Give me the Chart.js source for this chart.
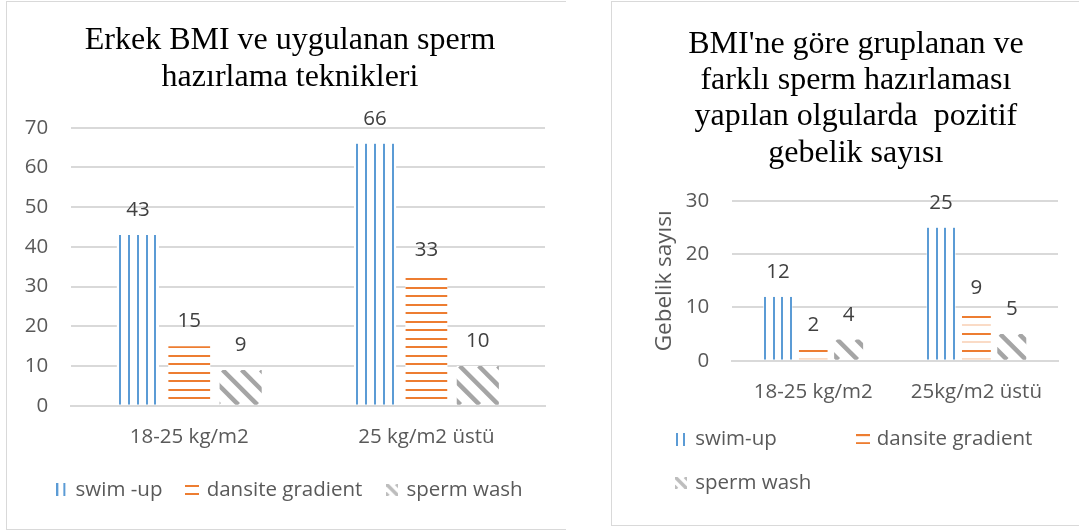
<!DOCTYPE html>
<html>
<head>
<meta charset="utf-8">
<script src="https://cdn.jsdelivr.net/npm/chart.js@4.4.1/dist/chart.umd.min.js"></script>
<style>
  html, body { margin: 0; padding: 0; background: #ffffff; }
  body { width: 1079px; height: 531px; overflow: hidden; position: relative; }
  #frameL { position: absolute; left: 6px; top: 1px; width: 559px; height: 527px;
            border-left: 1px solid #D9D9D9; border-top: 1px solid #D9D9D9; border-bottom: 1px solid #D9D9D9; }
  #frameR { position: absolute; left: 611px; top: 1px; width: 470px; height: 523px;
            border: 1px solid #D9D9D9; }
  #wrapL { position: absolute; left: 7px; top: 2px; width: 549px; height: 526px; }
  #wrapR { position: absolute; left: 612px; top: 2px; width: 467px; height: 522px; }
</style>
</head>
<body>
<div id="frameL"></div>
<div id="frameR"></div>
<div id="wrapL"><canvas id="chartL"></canvas></div>
<div id="wrapR"><canvas id="chartR"></canvas></div>
<script>
// ---------- data (left chart) ----------
const titleLeft = ['Erkek BMI ve uygulanan sperm', 'hazırlama teknikleri'];
const categoriesLeft = ['18-25 kg/m2', '25 kg/m2 üstü'];
const seriesNamesLeft = ['swim -up', 'dansite gradient', 'sperm wash'];
const swimUpLeft = [43, 66];
const dansiteLeft = [15, 33];
const spermWashLeft = [9, 10];
const yMinLeft = 0, yMaxLeft = 70, yStepLeft = 10;

// ---------- data (right chart) ----------
const titleRight = ["BMI'ne göre gruplanan ve", 'farklı sperm hazırlaması', 'yapılan olgularda  pozitif', 'gebelik sayısı'];
const categoriesRight = ['18-25 kg/m2', '25kg/m2 üstü'];
const seriesNamesRight = ['swim-up', 'dansite gradient', 'sperm wash'];
const swimUpRight = [12, 25];
const dansiteRight = [2, 9];
const spermWashRight = [4, 5];
const yMinRight = 0, yMaxRight = 30, yStepRight = 10;
const yTitleRight = 'Gebelik sayısı';

// ---------- styles ----------
const BLUE = '#5B9BD5', ORANGE = '#ED7D31', GRAY = '#A5A5A5';
const TXT = '#595959', LBL = '#404040', GRID = '#D9D9D9';
const SANS = '"Open Sans", "Liberation Sans", sans-serif';
const SERIF = '"Liberation Serif", "Times New Roman", serif';
const FS = 20.5;

function makeIcon(kind) {
  const c = document.createElement('canvas');
  const g = c.getContext('2d');
  if (kind === 'vertical') {
    c.width = 10; c.height = 13;
    g.fillStyle = BLUE; g.fillRect(0, 0, 2, 13); g.fillRect(7, 0, 2, 13);
  } else if (kind === 'horizontal') {
    c.width = 14; c.height = 10;
    g.fillStyle = ORANGE; g.fillRect(0, 0, 14, 2); g.fillRect(0, 8, 14, 2);
  } else {
    c.width = 12; c.height = 12;
    g.save(); g.beginPath(); g.rect(0, 0, 12, 12); g.clip();
    g.strokeStyle = '#BDBDBD'; g.lineWidth = 3.5;
    for (let k = -2; k <= 2; k++) {
      g.beginPath(); g.moveTo(k * 10, 0); g.lineTo(k * 10 + 12, 12); g.stroke();
    }
    g.restore();
  }
  return c;
}

const hatchPlugin = {
  id: 'hatch',
  afterDatasetsDraw(chart) {
    const ctx = chart.ctx;
    const hOff = chart.options.plugins.hatch.hOffset;
    const hAlt = chart.options.plugins.hatch.alternate;
    chart.data.datasets.forEach((ds, di) => {
      const meta = chart.getDatasetMeta(di);
      if (meta.hidden) return;
      meta.data.forEach(bar => {
        const p = bar.getProps(['x', 'y', 'base', 'width'], true);
        const left = p.x - p.width / 2, w = p.width;
        const top = Math.min(p.y, p.base), bottom = Math.max(p.y, p.base), h = bottom - top;
        if (h <= 0) return;
        ctx.save();
        ctx.beginPath(); ctx.rect(left, top, w, h); ctx.clip();
        if (ds.hatch === 'vertical') {
          const pitch = 8.8;
          const n = Math.floor((w - 2) / pitch) + 1;
          const start = left + (w - (n - 1) * pitch) / 2;
          ctx.fillStyle = BLUE;
          for (let k = 0; k < n; k++) {
            ctx.fillRect(Math.round(start + k * pitch) - 1, top, 2, h);
          }
        } else if (ds.hatch === 'horizontal') {
          const pitch = 8.5;
          for (let k = 0; ; k++) {
            const yy = p.base - hOff - k * pitch;
            if (yy < top - 2) break;
            if (hAlt && k % 2 === 0) {
              ctx.fillStyle = 'rgba(237,125,49,0.55)';
              ctx.fillRect(left, Math.round(yy) - 0.5, w, 1);
            } else {
              ctx.fillStyle = ORANGE;
              ctx.fillRect(left, Math.round(yy) - 1, w, 2);
            }
          }
        } else if (ds.hatch === 'diagonal') {
          const period = 19;
          ctx.strokeStyle = GRAY; ctx.lineWidth = 4.5;
          for (let x0 = left + 3 - Math.ceil((h + 10) / period) * period; x0 < left + w + 10; x0 += period) {
            ctx.beginPath(); ctx.moveTo(x0, top); ctx.lineTo(x0 + h, bottom); ctx.stroke();
          }
        }
        ctx.restore();
      });
    });
  }
};

const valueLabelPlugin = {
  id: 'valueLabels',
  afterDatasetsDraw(chart) {
    const ctx = chart.ctx;
    ctx.save();
    ctx.font = FS + 'px ' + SANS;
    ctx.fillStyle = LBL;
    ctx.textAlign = 'center';
    ctx.textBaseline = 'middle';
    chart.data.datasets.forEach((ds, di) => {
      chart.getDatasetMeta(di).data.forEach((bar, i) => {
        ctx.fillText(String(ds.data[i]), bar.x, bar.y - 24.5);
      });
    });
    ctx.restore();
  }
};

function buildDatasets(names, a, b, c) {
  const base = { backgroundColor: '#FFFFFF', borderWidth: 0 };
  return [
    Object.assign({ label: names[0], data: a, hatch: 'vertical', icon: makeIcon('vertical') }, base),
    Object.assign({ label: names[1], data: b, hatch: 'horizontal', icon: makeIcon('horizontal') }, base),
    Object.assign({ label: names[2], data: c, hatch: 'diagonal', icon: makeIcon('diagonal') }, base)
  ];
}

function legendLabels(extraText) {
  return function (chart) {
    const items = Chart.defaults.plugins.legend.labels.generateLabels(chart);
    items.forEach((it, i) => {
      it.pointStyle = chart.data.datasets[i].icon;
      it.fontColor = TXT;
      if (extraText && extraText[i]) it.text = it.text + extraText[i];
    });
    return items;
  };
}

function build() {
  Chart.defaults.font.family = SANS;
  Chart.defaults.color = TXT;

  new Chart(document.getElementById('chartL'), {
    type: 'bar',
    data: { labels: categoriesLeft, datasets: buildDatasets(seriesNamesLeft, swimUpLeft, dansiteLeft, spermWashLeft) },
    options: {
      animation: false, responsive: true, maintainAspectRatio: false,
      layout: { padding: { left: 17, right: 0, top: 0, bottom: 17.8 } },
      datasets: { bar: { barPercentage: 0.82, categoryPercentage: 0.65 } },
      scales: {
        x: {
          z: 1,
          grid: { display: false, drawTicks: false, tickLength: 0 },
          border: { display: true, color: GRID, width: 2 },
          ticks: { color: TXT, font: { size: FS }, padding: 18.7 },
          afterFit: s => { s.height = 48; }
        },
        y: {
          min: yMinLeft, max: yMaxLeft,
          grid: { color: GRID, lineWidth: 2, drawTicks: false, tickLength: 0 },
          border: { display: false },
          ticks: { stepSize: yStepLeft, color: TXT, font: { size: FS }, padding: 22.4 },
          afterFit: s => { s.width = 46.7; }
        },
        yRightSpacer: {
          type: 'linear', position: 'right', display: true,
          grid: { display: false, drawTicks: false, tickLength: 0 },
          border: { display: false },
          ticks: { display: false },
          afterFit: s => { s.width = 11; }
        }
      },
      plugins: {
        hatch: { hOffset: 6.7, alternate: false },
        tooltip: { enabled: false },
        title: {
          display: true, text: titleLeft, color: '#000000',
          font: { family: SERIF, size: 32, weight: 'normal', lineHeight: 1.144 },
          padding: { top: 20.6, bottom: 31.9 }
        },
        legend: {
          position: 'bottom', align: 'center',
          labels: {
            usePointStyle: true, pointStyleWidth: 8, padding: 26,
            color: TXT, font: { size: FS },
            generateLabels: legendLabels(null)
          }
        }
      }
    },
    plugins: [hatchPlugin, valueLabelPlugin]
  });

  new Chart(document.getElementById('chartR'), {
    type: 'bar',
    data: { labels: categoriesRight, datasets: buildDatasets(seriesNamesRight, swimUpRight, dansiteRight, spermWashRight) },
    options: {
      animation: false, responsive: true, maintainAspectRatio: false,
      layout: { padding: { left: 41.8, right: 21, top: 0, bottom: 20.9 } },
      datasets: { bar: { barPercentage: 0.82, categoryPercentage: 0.65 } },
      scales: {
        x: {
          z: 1,
          grid: { display: false, drawTicks: false, tickLength: 0 },
          border: { display: true, color: GRID, width: 2 },
          ticks: { color: TXT, font: { size: FS }, padding: 19.3 },
          afterFit: s => { s.height = 45; }
        },
        y: {
          min: yMinRight, max: yMaxRight,
          grid: { color: GRID, lineWidth: 2, drawTicks: false, tickLength: 0 },
          border: { display: false },
          ticks: { stepSize: yStepRight, color: TXT, font: { size: FS }, padding: 22.4 },
          title: { display: true, text: yTitleRight, color: TXT, font: { size: 22.5, lineHeight: 1 }, padding: { top: 0, bottom: 9 } },
          afterFit: s => { s.width = 77.9; }
        }
      },
      plugins: {
        hatch: { hOffset: 0.7, alternate: true },
        tooltip: { enabled: false },
        title: {
          display: true, text: titleRight, color: '#000000',
          font: { family: SERIF, size: 32, weight: 'normal', lineHeight: 1.1375 },
          padding: { top: 24, bottom: 29.4 }
        },
        legend: {
          position: 'bottom', align: 'start',
          labels: {
            usePointStyle: true, pointStyleWidth: 8, padding: 23.2,
            color: TXT, font: { size: FS },
            generateLabels: legendLabels(['           ', '', ''])
          }
        }
      }
    },
    plugins: [hatchPlugin, valueLabelPlugin]
  });
}

Promise.all([
  document.fonts.load(FS + 'px "Open Sans"'),
  document.fonts.load('32px "Liberation Serif"')
]).catch(() => {}).then(build);
</script>
</body>
</html>
